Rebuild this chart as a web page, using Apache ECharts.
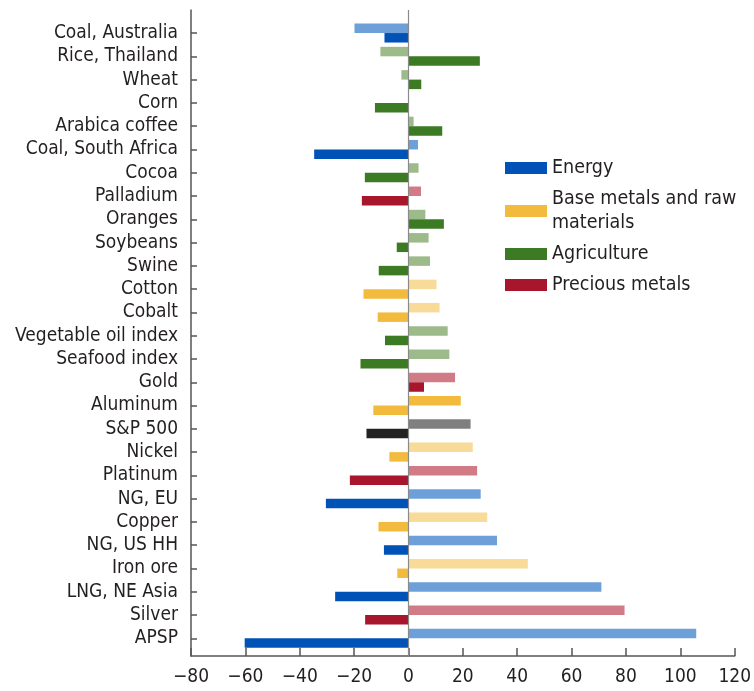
<!DOCTYPE html>
<html>
<head>
<meta charset="utf-8">
<script src="https://cdn.jsdelivr.net/npm/echarts@6/dist/echarts.min.js"></script>
<style>
  html, body { margin: 0; padding: 0; background: #fff; }
  #chart { width: 754px; height: 691px; }
</style>
</head>
<body>
<div id="chart"></div>
<script>
// ---- data ----
const categories = ['Coal, Australia','Rice, Thailand','Wheat','Corn','Arabica coffee','Coal, South Africa','Cocoa','Palladium','Oranges','Soybeans','Swine','Cotton','Cobalt','Vegetable oil index','Seafood index','Gold','Aluminum','S&P 500','Nickel','Platinum','NG, EU','Copper','NG, US HH','Iron ore','LNG, NE Asia','Silver','APSP'];
const groups = ['energy','agri','agri','agri','agri','energy','agri','precious','agri','agri','agri','base','base','agri','agri','precious','base','equity','base','precious','energy','base','energy','base','energy','precious','energy'];
const lightValues = [-20, -10.5, -2.8, 0, 1.7, 3.3, 3.5, 4.4, 6, 7.2, 7.7, 10.1, 11.2, 14.2, 14.8, 16.9, 19, 22.6, 23.4, 25, 26.3, 28.7, 32.3, 43.6, 70.6, 79.1, 105.4];
const darkValues = [-9, 26, 4.5, -12.5, 12.2, -34.8, -16.2, -17.3, 12.8, -4.5, -11.1, -16.7, -11.5, -8.8, -17.8, 5.5, -13.1, -15.6, -7.2, -21.7, -30.5, -11.2, -9.2, -4.3, -27.1, -16.1, -60.3];
const legendNames = ['Energy', 'Base metals and raw\nmaterials', 'Agriculture', 'Precious metals'];
const legendGroups = ['energy', 'base', 'agri', 'precious'];
const xTicks = [-80, -60, -40, -20, 0, 20, 40, 60, 80, 100, 120];
const saturatedLight = ['Aluminum'];

// ---- styles ----
const palette = {
  energy:   { dark: '#0152b6', light: '#6d9fd8' },
  base:     { dark: '#f3bb3d', light: '#f8db98' },
  agri:     { dark: '#3c7a24', light: '#9dbb8a' },
  precious: { dark: '#a7162d', light: '#d17b87' },
  equity:   { dark: '#222222', light: '#7f7f7f' }
};
const FONT = '"DejaVu Sans Condensed", "Liberation Sans Narrow", sans-serif';
const TXT = '#231f20';
const AX = '#555555';

const chart = echarts.init(document.getElementById('chart'), null, { renderer: 'canvas' });

const lightData = lightValues.map((v, i) => ({
  value: v,
  itemStyle: { color: saturatedLight.includes(categories[i]) ? palette[groups[i]].dark : palette[groups[i]].light }
}));
const darkData = darkValues.map((v, i) => ({
  value: v,
  itemStyle: { color: palette[groups[i]].dark }
}));

const option = {
  backgroundColor: '#ffffff',
  animation: false,
  grid: [
    { left: 191, top: 21.4, width: 545, height: 628.6, containLabel: false },
    { left: 191, top: 10, width: 545, height: 646, containLabel: false }
  ],
  xAxis: [
    { gridIndex: 0, type: 'value', min: xTicks[0], max: xTicks[xTicks.length - 1], interval: 20, show: false, axisLine: { onZero: false } },
    {
      gridIndex: 1, type: 'value', min: xTicks[0], max: xTicks[xTicks.length - 1], interval: 20,
      axisLine: { show: true, onZero: false, lineStyle: { color: AX, width: 1.5 } },
      axisTick: { show: true, inside: true, length: 8, lineStyle: { color: AX, width: 1.5 } },
      splitLine: { show: false },
      axisLabel: {
        color: TXT, fontFamily: FONT, fontSize: 19, margin: 12,
        formatter: v => (v < 0 ? '\u2212' + Math.abs(v) : String(v))
      }
    }
  ],
  yAxis: [
    {
      gridIndex: 0, type: 'category', data: categories, inverse: true,
      axisLine: { show: false, onZero: false },
      axisTick: { show: true, inside: true, length: 6, alignWithLabel: true, interval: 0, lineStyle: { color: AX, width: 1.5 } },
      axisLabel: { color: TXT, fontFamily: FONT, fontSize: 19, margin: 13, interval: 0 },
      splitLine: { show: false }
    },
    {
      gridIndex: 1, type: 'value', min: 0, max: 1,
      axisLine: { show: true, onZero: false, lineStyle: { color: AX, width: 1.5 } },
      axisTick: { show: false }, axisLabel: { show: false }, splitLine: { show: false }
    }
  ],
  legend: {
    orient: 'vertical',
    left: 500, top: 151,
    itemWidth: 42, itemHeight: 12, itemGap: 7, icon: 'rect',
    textStyle: { color: TXT, fontFamily: FONT, fontSize: 19.5, lineHeight: 24 },
    data: legendNames
  },
  series: [
    {
      name: 'light', type: 'bar', xAxisIndex: 0, yAxisIndex: 0,
      data: lightData, barWidth: 9.5, barGap: '0%'
    },
    {
      name: 'dark', type: 'bar', xAxisIndex: 0, yAxisIndex: 0,
      data: darkData, barWidth: 9.5, barGap: '0%'
    },
    {
      name: 'zero', type: 'line', xAxisIndex: 1, yAxisIndex: 1, data: [], z: 5,
      markLine: {
        silent: true, symbol: 'none', label: { show: false },
        lineStyle: { color: '#8a8a8a', width: 1.2, type: 'solid' },
        data: [{ xAxis: 0 }]
      }
    }
  ].concat(legendNames.map((n, k) => ({
    name: n, type: 'line', xAxisIndex: 1, yAxisIndex: 1, data: [],
    color: palette[legendGroups[k]].dark,
    itemStyle: { color: palette[legendGroups[k]].dark }
  })))
};
chart.setOption(option);
</script>
</body>
</html>
